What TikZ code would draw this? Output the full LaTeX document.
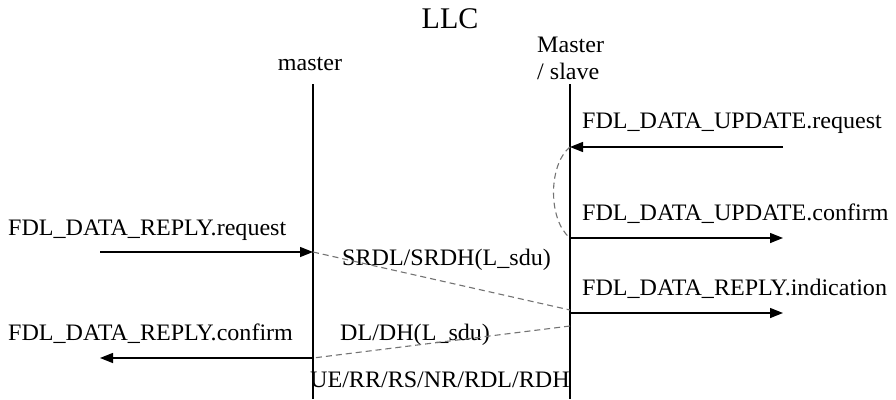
\documentclass[tikz,border=0pt]{standalone}
\usepackage{fontspec}
\setmainfont{Liberation Serif}
\usetikzlibrary{arrows.meta}
\begin{document}
\begin{tikzpicture}[x=1pt,y=-1pt,
  lbl/.style={inner sep=0pt,anchor=base west,font=\fontsize{23.6}{26}\selectfont,xscale=1.02,transform shape},
  life/.style={line width=1.4pt,black},
  msg/.style={line width=1.4pt,-{Triangle[length=13pt,width=10pt]}},
  pdu/.style={line width=1.1pt,black!55,dash pattern=on 6pt off 4pt}]
\useasboundingbox (0,0) rectangle (896,399);
% titles
\node[inner sep=0pt,anchor=base,font=\fontsize{30}{34}\selectfont] (llc) at (450,28) {LLC};
\node[lbl,anchor=base] (mst) at (310,70) {master};
\node[lbl] (ms1) at (537,52) {Master};
\node[lbl] (ms2) at (537,79) {/ slave};
% lifelines
\coordinate (Ltop) at (313,84); \coordinate (Lbot) at (313,399);
\coordinate (Rtop) at (570,84); \coordinate (Rbot) at (570,399);
\draw[life] (Ltop) -- (Lbot);
\draw[life] (Rtop) -- (Rbot);
% labels
\node[lbl] (upreq) at (582,128) {FDL\_DATA\_UPDATE.request};
\node[lbl] (upcon) at (582,220) {FDL\_DATA\_UPDATE.confirm};
\node[lbl] (rpind) at (582,295) {FDL\_DATA\_REPLY.indication};
\node[lbl] (rpreq) at (8,235) {FDL\_DATA\_REPLY.request};
\node[lbl] (rpcon) at (8,340) {FDL\_DATA\_REPLY.confirm};
\node[lbl] (srdl) at (342,265) {SRDL/SRDH(L\_sdu)};
\node[lbl] (dldh) at (340,340) {DL/DH(L\_sdu)};
\node[lbl] (ue) at (310,387) {UE/RR/RS/NR/RDL/RDH};
% arrow end points
\coordinate (a1s) at (783,147); \coordinate (a1e) at (570,147);
\coordinate (a2s) at (570,238); \coordinate (a2e) at (783,238);
\coordinate (a3s) at (570,313); \coordinate (a3e) at (783,313);
\coordinate (a4s) at (100,252); \coordinate (a4e) at (313,252);
\coordinate (a5s) at (313,358); \coordinate (a5e) at (100,358);
\coordinate (d1e) at (570,310);
\coordinate (d2s) at (570,326);
% arrows
\draw[msg] (a1s) -- (a1e);
\draw[msg] (a2s) -- (a2e);
\draw[msg] (a3s) -- (a3e);
\draw[msg] (a4s) -- (a4e);
\draw[msg] (a5s) -- (a5e);
% dashed PDUs
\draw[pdu] (a4e) -- (d1e);
\draw[pdu] (d2s) -- (a5s);
\draw[pdu] (a1e) .. controls (548,165) and (548,220) .. (a2s);
\end{tikzpicture}
\end{document}
